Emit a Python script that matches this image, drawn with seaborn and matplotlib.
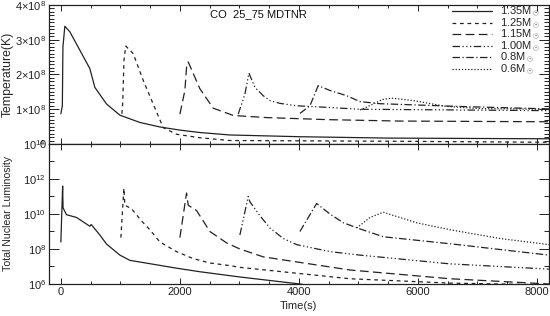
import numpy as np
import pandas as pd
import seaborn as sns
import matplotlib
matplotlib.use('Agg')
import matplotlib.pyplot as plt
from matplotlib.lines import Line2D
from matplotlib.ticker import MultipleLocator, FixedLocator, FuncFormatter, NullFormatter

# series labels (white dwarf mass)
labels = [r'1.35M$_\odot$', r'1.25M$_\odot$', r'1.15M$_\odot$',
          r'1.00M$_\odot$', r'0.8M$_\odot$', r'0.6M$_\odot$']

# --- temperature (units of 1e8 K) vs time (s) ---
tT_135 = [0, 25, 35, 67, 151, 319, 487, 571, 768, 992, 1328, 1664, 2000, 2336, 2840, 4000, 5500, 8200]
T_135 = [0.87, 1.1, 2.8, 3.39, 3.23, 2.70, 2.17, 1.63, 1.15, 0.83, 0.62, 0.49, 0.40, 0.33, 0.26, 0.21, 0.17, 0.15]

tT_125 = [1025, 1040, 1060, 1090, 1216, 1384, 1552, 1720, 1944, 2336, 2840, 5500, 8200]
T_125 = [0.87, 1.2, 2.4, 2.82, 2.6, 1.83, 1.15, 0.47, 0.28, 0.18, 0.10, 0.08, 0.05]

tT_115 = [2000, 2084, 2112, 2140, 2336, 2560, 2900, 3460, 4500, 5700, 8200]
T_115 = [0.86, 1.54, 2.21, 2.36, 1.59, 1.03, 0.82, 0.76, 0.70, 0.66, 0.64]

tT_100 = [2980, 3093, 3160, 3260, 3400, 3513, 3680, 3960, 4521, 5025, 8200]
T_100 = [0.86, 1.44, 2.04, 1.63, 1.39, 1.25, 1.17, 1.10, 1.05, 1.00, 0.96]

tT_080 = [4017, 4185, 4324, 4521, 4802, 5025, 5361, 6700, 8200]
T_080 = [0.88, 1.10, 1.68, 1.54, 1.39, 1.22, 1.16, 1.08, 1.01]

tT_060 = [5025, 5250, 5400, 5560, 5921, 6482, 7042, 8200]
T_060 = [0.98, 1.15, 1.28, 1.32, 1.25, 1.08, 1.02, 1.00]

# --- log10 total nuclear luminosity vs time (s) ---
tL_135 = [0, 30, 37, 95, 264, 487, 510, 655, 768, 992, 1160, 1496, 1950, 2336, 3008, 4017, 4450]
L_135 = [8.4, 11.6, 10.35, 9.96, 9.8, 9.3, 9.4, 8.8, 8.28, 7.65, 7.35, 7.16, 6.9, 6.7, 6.4, 6.0, 5.75]

tL_125 = [1008, 1059, 1076, 1188, 1356, 1496, 1664, 1944, 2224, 2504, 2840, 3008, 4857, 6538, 8200]
L_125 = [8.65, 11.47, 10.5, 10.3, 9.6, 9.1, 8.4, 7.85, 7.45, 7.2, 7.05, 6.95, 6.3, 6.05, 5.95]

tL_115 = [2000, 2112, 2140, 2280, 2504, 2784, 3008, 3400, 4857, 6538, 8200]
L_115 = [8.65, 11.2, 10.5, 10.2, 9.0, 8.35, 8.0, 7.55, 6.8, 6.3, 6.0]

tL_100 = [3008, 3148, 3176, 3345, 3513, 3737, 3961, 4521, 5025, 6538, 8200]
L_100 = [8.8, 11.0, 10.7, 9.9, 9.2, 8.6, 8.25, 7.85, 7.65, 7.15, 6.85]

tL_080 = [4017, 4297, 4521, 4745, 5025, 5417, 6538, 8200]
L_080 = [9.0, 10.6, 10.0, 9.5, 9.15, 8.7, 8.3, 7.65]

tL_060 = [4970, 5193, 5417, 5697, 5977, 6538, 7378, 8200]
L_060 = [9.2, 9.8, 10.1, 9.8, 9.5, 9.1, 8.6, 8.25]

tT = [tT_135, tT_125, tT_115, tT_100, tT_080, tT_060]
Tv = [T_135, T_125, T_115, T_100, T_080, T_060]
tL = [tL_135, tL_125, tL_115, tL_100, tL_080, tL_060]
Lv = [L_135, L_125, L_115, L_100, L_080, L_060]

dash_map = {labels[0]: '',
            labels[1]: (3, 3),
            labels[2]: (7, 3.5),
            labels[3]: (6, 2, 1, 2, 1, 2, 1, 2),
            labels[4]: (6, 2, 1, 2),
            labels[5]: (1, 1.5)}

dfT = pd.concat([pd.DataFrame({'t': t, 'T': np.array(v) * 1e8, 'mass': lab})
                 for lab, t, v in zip(labels, tT, Tv)])
dfL = pd.concat([pd.DataFrame({'t': t, 'L': 10.0 ** np.array(v), 'mass': lab})
                 for lab, t, v in zip(labels, tL, Lv)])

sns.set_style('ticks')
plt.rcParams['font.family'] = ['Liberation Sans', 'DejaVu Sans']
plt.rcParams['mathtext.fontset'] = 'custom'
plt.rcParams['mathtext.rm'] = 'Liberation Sans'
plt.rcParams['mathtext.it'] = 'Liberation Sans:italic'
plt.rcParams['axes.edgecolor'] = '#222222'
plt.rcParams['axes.linewidth'] = 0.9

lc = '#222222'
fs = 8

fig = plt.figure(figsize=(5.5, 3.16), dpi=100)
ax1 = fig.add_axes([0.089, 0.5443, 0.909, 0.4399])
ax2 = fig.add_axes([0.089, 0.1013, 0.909, 0.4430], sharex=ax1)

sns.lineplot(data=dfT, x='t', y='T', style='mass', style_order=labels, dashes=dash_map,
             color=lc, lw=0.9, estimator=None, sort=False, legend=False, ax=ax1)
sns.lineplot(data=dfL, x='t', y='L', style='mass', style_order=labels, dashes=dash_map,
             color=lc, lw=0.9, estimator=None, sort=False, legend=False, ax=ax2)

ax1.set_xlim(-200, 8200)
ax1.set_ylim(0, 4e8)
ax2.set_yscale('log')
ax2.set_ylim(1e6, 1e14)

for ax in (ax1, ax2):
    ax.tick_params(which='both', direction='in', top=True, right=True, labelsize=fs,
                   colors='#222222', width=0.7, pad=2)
    ax.tick_params(axis='y', which='major', length=7)
    ax.tick_params(axis='y', which='minor', length=3.5)
    ax.tick_params(axis='x', which='major', length=4)
    ax.tick_params(axis='x', which='minor', length=2)
    ax.xaxis.set_major_locator(MultipleLocator(2000))
    ax.xaxis.set_minor_locator(MultipleLocator(500))
    ax.set_xlabel('')
    ax.set_ylabel('')

ax1.yaxis.set_major_locator(MultipleLocator(1e8))
ax1.yaxis.set_minor_locator(MultipleLocator(1e7))
ax1.yaxis.set_major_formatter(FuncFormatter(
    lambda v, p: '0' if round(v / 1e8) == 0 else f'{int(round(v / 1e8))}×10$^8$'))
ax1.tick_params(axis='x', labelbottom=False)

ax2.yaxis.set_major_locator(FixedLocator([1e6, 1e8, 1e10, 1e12, 1e14]))
ax2.yaxis.set_minor_locator(FixedLocator([1e7, 1e9, 1e11, 1e13]))
ax2.yaxis.set_minor_formatter(NullFormatter())
ax2.yaxis.set_major_formatter(FuncFormatter(lambda v, p: f'10$^{{{int(round(np.log10(v)))}}}$'))

ax1.set_ylabel('Temperature(K)', fontsize=8.8)
ax2.set_ylabel('Total Nuclear Luminosity', fontsize=7.6)
ax1.yaxis.set_label_coords(-0.071, 0.5)
ax2.yaxis.set_label_coords(-0.071, 0.5)
ax2.set_xlabel('Time(s)', fontsize=fs, labelpad=3)

ax1.text(0.322, 0.935, 'CO  25_75 MDTNR', transform=ax1.transAxes, fontsize=fs,
         va='center', ha='left', color='#111111')

handles = []
for lab in labels:
    d = dash_map[lab]
    if d == '':
        handles.append(Line2D([], [], color=lc, lw=0.9, ls='-'))
    else:
        handles.append(Line2D([], [], color=lc, lw=0.9, dashes=d))
ax1.legend(handles, labels, loc='upper right', bbox_to_anchor=(0.984, 1.008),
           frameon=False, fontsize=8,
           handlelength=3.6, handletextpad=0.7, labelspacing=-0.25,
           borderaxespad=0.0, borderpad=0.1)

fig.savefig('out.png', dpi=100)
